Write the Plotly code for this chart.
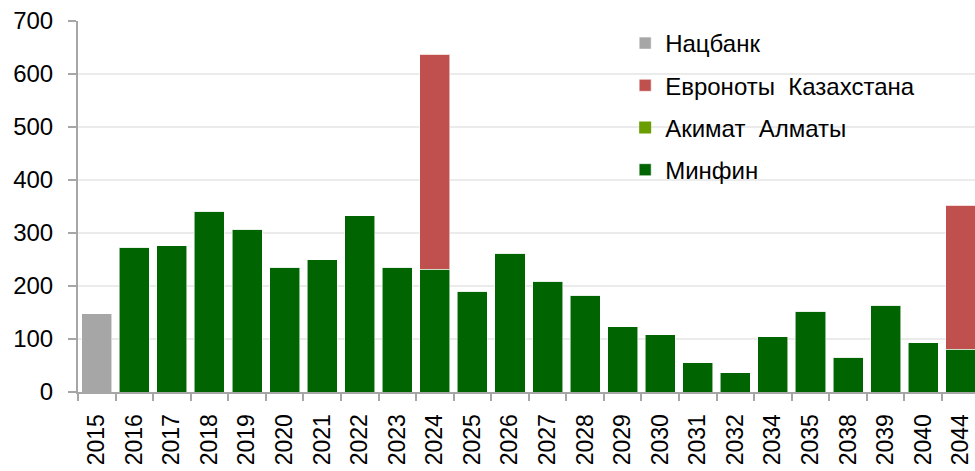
import plotly.graph_objects as go

years = ["2015", "2016", "2017", "2018", "2019", "2020", "2021", "2022", "2023", "2024",
         "2025", "2026", "2027", "2028", "2029", "2030", "2031", "2032", "2034", "2035",
         "2038", "2039", "2040", "2044"]
natsbank = [148, 0, 0, 0, 0, 0, 0, 0, 0, 0, 0, 0, 0, 0, 0, 0, 0, 0, 0, 0, 0, 0, 0, 0]
eurobonds = [0, 0, 0, 0, 0, 0, 0, 0, 0, 405, 0, 0, 0, 0, 0, 0, 0, 0, 0, 0, 0, 0, 0, 271]
akimat = [0] * 24
minfin = [0, 273, 276, 341, 307, 235, 250, 333, 235, 232, 190, 262, 209, 183, 123, 108,
          55, 36, 104, 152, 66, 164, 93, 81]

FONT = "Liberation Sans, Arial, sans-serif"
edge = dict(color="rgba(255,255,255,0.55)", width=1)

fig = go.Figure()
fig.add_bar(x=years, y=minfin, name="Минфин", marker=dict(color="#006400", line=edge),
            legendgroup="d", legendrank=4)
fig.add_bar(x=years, y=akimat, name="Акимат  Алматы", marker=dict(color="#6a9e00", line=dict(width=0)),
            legendgroup="c", legendrank=3)
fig.add_bar(x=years, y=eurobonds, name="Евроноты  Казахстана", marker=dict(color="#c0504d", line=edge),
            legendgroup="b", legendrank=2)
fig.add_bar(x=years, y=natsbank, name="Нацбанк", marker=dict(color="#a6a6a6", line=edge),
            legendgroup="a", legendrank=1)

fig.update_layout(
    width=975, height=471,
    barmode="stack", bargap=0.2,
    margin=dict(l=78, r=0, t=21, b=79, autoexpand=False),
    plot_bgcolor="white", paper_bgcolor="white",
    font=dict(family=FONT, size=24, color="#000000"),
    showlegend=True,
    legend=dict(x=0.61, y=1.0, xanchor="left", yanchor="top",
                traceorder="grouped", tracegroupgap=8,
                font=dict(size=24, family=FONT), bgcolor="rgba(255,255,255,0)"),
)
fig.update_xaxes(
    type="category", range=[-0.5, 23.38], automargin=False,
    showline=True, linecolor="#a6a6a6", linewidth=2,
    ticks="outside", tickson="boundaries", ticklen=7, tickcolor="#a6a6a6", tickwidth=2,
    tickangle=-90, tickfont=dict(size=23, family=FONT), ticklabelstandoff=11,
    showgrid=False,
)
fig.update_yaxes(
    range=[0, 700], dtick=100, automargin=False,
    showline=True, linecolor="#a6a6a6", linewidth=2,
    ticks="outside", ticklen=8, tickcolor="#a6a6a6", tickwidth=2,
    showgrid=True, gridcolor="#ebebeb", gridwidth=2,
    tickfont=dict(size=24, family=FONT), ticklabelstandoff=10,
    zeroline=False,
)

fig.write_html("out.html", config={"displayModeBar": False},
               post_script="document.body.style.margin='0';")
